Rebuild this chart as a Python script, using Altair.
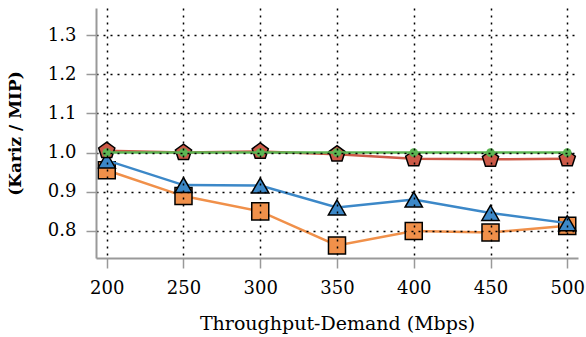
import altair as alt
import pandas as pd

demand = [200, 250, 300, 350, 400, 450, 500]
series_names = ["Orange", "Blue", "Red", "Green"]
orange_vals = [0.955, 0.889, 0.850, 0.763, 0.800, 0.796, 0.813]
blue_vals = [0.980, 0.917, 0.916, 0.860, 0.880, 0.846, 0.820]
red_vals = [1.005, 1.000, 1.003, 0.996, 0.984, 0.983, 0.984]
green_vals = [1.000, 1.000, 1.000, 1.000, 1.000, 1.000, 1.000]
x_ticks = [200, 250, 300, 350, 400, 450, 500]
y_ticks = [0.8, 0.9, 1.0, 1.1, 1.2, 1.3]

colors = {"Orange": "#f0904a", "Blue": "#3c88c8", "Red": "#cc5a48", "Green": "#5cb653"}
pentagon = "M0,-1 L0.951,-0.309 L0.588,0.809 L-0.588,0.809 L-0.951,-0.309 Z"
shapes = {"Orange": ("square", 290, 1.5), "Blue": ("triangle-up", 300, 1.5),
          "Red": (pentagon, 290, 1.5), "Green": ("circle", 75, 0)}
vals = {"Orange": orange_vals, "Blue": blue_vals, "Red": red_vals, "Green": green_vals}

FONT = "DejaVu Serif"

xs = alt.Scale(domain=[193, 507], nice=False, zero=False)
ys = alt.Scale(domain=[0.731, 1.369], nice=False, zero=False)

common = dict(grid=True, gridColor="black", gridDash=[2, 5], gridWidth=1.5, gridOpacity=1,
              domainColor="#999999", domainWidth=2, ticks=True, tickColor="#999999",
              tickWidth=1.5, tickSize=10, labelFont=FONT, labelFontSize=18,
              labelColor="black", titleFont=FONT, titleColor="black", zindex=1)

x_axis = alt.Axis(values=x_ticks, title="Throughput-Demand (Mbps)", format="d",
                  labelPadding=11, titleFontSize=19, titleFontWeight="normal",
                  titlePadding=17, **common)
y_axis = alt.Axis(values=y_ticks, title="(Kariz / MIP)", format=".1f",
                  labelPadding=10, titleFontSize=17, titleFontWeight="bold",
                  titlePadding=23, **common)

xe = alt.X("demand:Q", scale=xs, axis=x_axis)
ye = alt.Y("ratio:Q", scale=ys, axis=y_axis)

layers = []
for name in series_names:
    df = pd.DataFrame({"demand": demand, "ratio": vals[name]})
    line = alt.Chart(df).mark_line(color=colors[name], strokeWidth=2.5, clip=False).encode(x=xe, y=ye)
    shp, size, sw = shapes[name]
    pt = alt.Chart(df).mark_point(shape=shp, size=size, filled=True, fill=colors[name],
                                  stroke="black", strokeWidth=sw, opacity=1).encode(x=xe, y=ye)
    layers += [line, pt]

chart = alt.layer(*layers).properties(
    width=482, height=250,
    padding={"left": 96, "top": 8, "right": 8, "bottom": 79},
    autosize=alt.AutoSizeParams(type="none"),
    background="white",
).configure_view(stroke=None)

chart.save("out.html", embed_options={"renderer": "svg", "actions": False})
